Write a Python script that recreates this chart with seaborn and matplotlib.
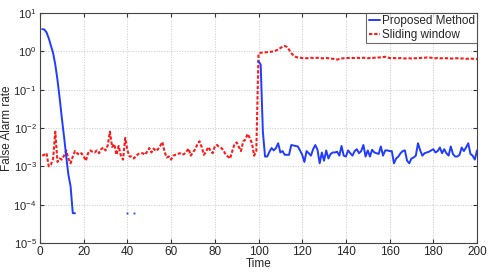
import numpy as np
import pandas as pd
import matplotlib
matplotlib.use('Agg')
import matplotlib.pyplot as plt
import seaborn as sns
from matplotlib.lines import Line2D

# proposed method, start-up part (t = 1..16)
prop_time_a = list(range(1, 17))
prop_vals_a = [3.8, 3.7, 3.1, 2.2, 1.4, 0.9, 0.45, 0.18, 0.06, 0.018, 0.006,
               0.0018, 0.0006, 0.0003, 0.00006, 0.00006]

# isolated nonzero points in between
prop_time_dots = [40, 43]
prop_vals_dots = [0.00006, 0.00006]

# proposed method after the change (t = 100..200)
prop_time_b = list(range(100, 201))
prop_vals_b = [0.55, 0.45, 0.008] + [v * 1e-3 for v in [
    1.8, 1.8, 2.4, 3.0, 2.6, 3.0, 4.0, 2.3, 2.5, 2.0, 2.0, 2.0, 3.6, 3.5, 3.4,
    3.3, 2.6, 2.0, 1.3, 2.5, 2.2, 1.9, 2.8, 3.6, 2.7, 1.2, 2.3, 1.4, 2.6, 1.6,
    2.1, 2.3, 2.3, 2.4, 1.9, 3.4, 1.9, 1.8, 2.6, 2.2, 1.9, 2.5, 2.8, 2.2, 2.5,
    3.6, 1.8, 2.6, 1.8, 2.7, 2.3, 2.2, 2.1, 3.3, 1.9, 2.6, 2.6, 2.5, 2.5, 1.2,
    1.6, 1.8, 2.2, 2.5, 2.6, 1.4, 1.2, 1.6, 1.7, 1.9, 4.0, 2.6, 1.9, 2.2, 2.3,
    2.4, 2.6, 2.8, 2.3, 2.5, 3.1, 2.2, 2.8, 2.2, 1.9, 3.3, 2.1, 1.8, 1.8, 2.0,
    3.1, 2.5, 3.1, 4.0, 2.1, 1.9, 1.5, 2.6]]

# sliding window (t = 1..200)
slide_time = list(range(1, 201))
slide_low = [v * 1e-3 for v in [
    1.9, 2.0, 2.2, 1.0, 1.1, 1.6, 8.0, 1.3, 1.6, 1.5, 1.9, 2.6, 1.6, 1.2, 1.8,
    2.5, 2.2, 2.0, 2.2, 1.8, 1.4, 2.2, 2.6, 2.4, 2.3, 2.6, 2.2, 2.8, 3.1, 2.6,
    3.5, 8.0, 3.2, 3.8, 2.0, 3.4, 1.9, 1.5, 5.5, 2.6, 1.8, 1.8, 1.6, 1.9, 2.1,
    2.2, 2.2, 2.0, 2.4, 3.0, 2.3, 2.9, 2.5, 2.8, 3.4, 4.3, 2.4, 1.7, 1.8, 1.5,
    1.9, 2.0, 2.1, 2.2, 2.0, 2.1, 2.4, 2.9, 1.9, 2.3, 2.8, 3.7, 4.5, 3.2, 2.0,
    2.4, 3.2, 2.6, 2.2, 3.3, 3.6, 3.2, 3.0, 2.6, 2.0, 1.8, 1.6, 2.5, 3.8, 4.2,
    3.2, 2.5, 4.5, 5.0, 7.0, 5.5, 4.0, 1.9, 2.5]]
slide_high = [
    0.86, 0.92, 0.93, 0.94, 0.95, 0.96, 0.98, 1.0, 1.05, 1.12, 1.22, 1.32,
    1.38, 1.3, 1.1, 0.9, 0.78, 0.72,
    0.69, 0.68, 0.67, 0.67, 0.66, 0.67, 0.68, 0.67, 0.67, 0.68, 0.67, 0.66,
    0.66, 0.67, 0.66, 0.65, 0.64, 0.62, 0.61, 0.63, 0.65, 0.66, 0.67, 0.67,
    0.68, 0.67, 0.67, 0.68, 0.67, 0.67, 0.68, 0.67, 0.66, 0.67, 0.67, 0.68,
    0.68, 0.69, 0.70, 0.71, 0.72, 0.69, 0.67, 0.66, 0.67, 0.66, 0.66, 0.67,
    0.66, 0.65, 0.66, 0.66, 0.65, 0.66, 0.66, 0.67, 0.67, 0.68, 0.68, 0.69,
    0.69, 0.68, 0.67, 0.66, 0.67, 0.66, 0.66, 0.67, 0.66, 0.66, 0.65, 0.65,
    0.66, 0.66, 0.66, 0.65, 0.65, 0.64, 0.64, 0.65, 0.64, 0.64, 0.63]
slide_vals = slide_low + slide_high

blue = '#1f3cff'
red = '#ff1a1a'

sns.set_style('ticks')
plt.rcParams['font.family'] = ['Liberation Sans', 'DejaVu Sans']
plt.rcParams['mathtext.fontset'] = 'custom'
plt.rcParams['mathtext.rm'] = 'Liberation Sans'
plt.rcParams['mathtext.it'] = 'Liberation Sans:italic'

fig = plt.figure(figsize=(4.91, 2.73), dpi=100)
ax = fig.add_axes([40 / 491, 1 - 243 / 273, 437 / 491, 230 / 273])

slide_df = pd.DataFrame({'Time': slide_time, 'rate': slide_vals})
sns.lineplot(data=slide_df, x='Time', y='rate', ax=ax, color=red,
             linestyle=(0, (1.6, 0.9)), linewidth=1.5, zorder=3)

df_a = pd.DataFrame({'Time': prop_time_a, 'rate': prop_vals_a})
df_b = pd.DataFrame({'Time': prop_time_b, 'rate': prop_vals_b})
sns.lineplot(data=df_a, x='Time', y='rate', ax=ax, color=blue, linewidth=1.4, zorder=4)
sns.lineplot(data=df_b, x='Time', y='rate', ax=ax, color=blue, linewidth=1.4, zorder=4)
ax.plot(prop_time_dots, prop_vals_dots, linestyle='none', marker='s',
        markersize=1.3, color=blue, markeredgewidth=0)

ax.set_yscale('log')
ax.set_xlim(0, 200)
ax.set_ylim(1e-5, 10)
ax.set_xticks(range(0, 201, 20))
ax.set_yticks([1e-5, 1e-4, 1e-3, 1e-2, 1e-1, 1, 10])
ax.minorticks_off()
ax.grid(True, linestyle=':', color='#c8c8c8', linewidth=0.7)
ax.tick_params(direction='in', length=3, labelsize=8, color='#333333',
               top=True, right=True, pad=2.5)
ax.tick_params(axis='x', labelsize=8.5)
for s in ax.spines.values():
    s.set_color('#444444')
    s.set_linewidth(0.8)

ax.set_xlabel('Time', fontsize=8.5, labelpad=0)
ax.set_ylabel('False Alarm rate', fontsize=8.5)
ax.yaxis.set_label_coords(-0.062, 0.5)

handles = [Line2D([], [], color=blue, linewidth=1.4),
           Line2D([], [], color=red, linewidth=1.5, linestyle=(0, (1.6, 0.9)))]
leg = ax.legend(handles, ['Proposed Method', 'Sliding window'], loc='upper right',
                fontsize=8.5, frameon=True, fancybox=False, handlelength=1.0,
                handletextpad=0.1, borderpad=0.2, labelspacing=0.15,
                borderaxespad=0.0)
leg.get_frame().set_edgecolor('#444444')
leg.get_frame().set_linewidth(0.8)

fig.savefig('out.png', dpi=100)
